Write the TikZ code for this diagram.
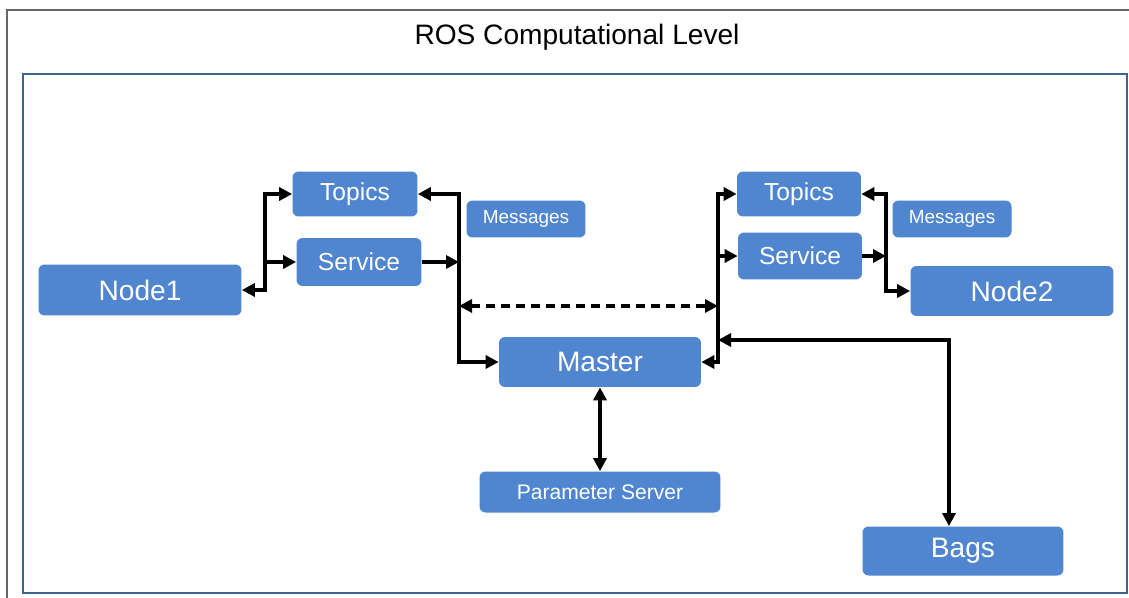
\documentclass[tikz,border=0pt]{standalone}
\usepackage{fontspec}
\setmainfont{Liberation Sans}
\usepackage{tikz}
\usetikzlibrary{shapes,arrows,arrows.meta}

\definecolor{rosblue}{RGB}{80,134,208}
\definecolor{framecol}{RGB}{65,97,142}
\tikzset{
  box/.style={draw=none,fill=rosblue,rounded corners=0.12cm,text=white,inner sep=0pt},
  big/.style={box,font=\fontsize{16}{18}\selectfont},
  mid/.style={box,font=\fontsize{14}{16}\selectfont},
  small/.style={box,font=\fontsize{10.8}{12}\selectfont},
  link/.style={line width=2pt,>={Triangle[length=0.26cm,width=0.26cm]}}
}

\begin{document}
\begin{tikzpicture}[x=0.02cm,y=-0.02cm]
\useasboundingbox (0,0) rectangle (1129,598);
\fill[white] (0,0) rectangle (1129,598);
\draw[gray!80!black,line width=1pt] (1129,10) -- (7,10) -- (7,598);
\draw[framecol,line width=1.6pt] (23,74) rectangle (1127,593);
\node (title) at (577,37) {\fontsize{16}{18}\selectfont ROS Computational Level};

\node[big,minimum width=4.06cm,minimum height=1.02cm] (node1) at (140,290) {Node1};
\node[mid,minimum width=2.5cm,minimum height=0.9cm] (topicsL) at (355,194) {Topics};
\node[mid,minimum width=2.5cm,minimum height=0.96cm] (serviceL) at (359,262) {Service};
\node[small,minimum width=2.38cm,minimum height=0.74cm] (msgL) at (526,219) {Messages};
\node[big,minimum width=4.04cm,minimum height=1cm] (master) at (600,362) {Master};
\node[box,font=\fontsize{12}{14}\selectfont,minimum width=4.82cm,minimum height=0.82cm] (param) at (600,492) {Parameter Server};
\node[mid,minimum width=2.48cm,minimum height=0.9cm] (topicsR) at (799,194) {Topics};
\node[mid,minimum width=2.48cm,minimum height=0.94cm] (serviceR) at (800,256) {Service};
\node[small,minimum width=2.38cm,minimum height=0.74cm] (msgR) at (952,219) {Messages};
\node[big,minimum width=4.06cm,minimum height=1cm] (node2) at (1012,291) {Node2};
\node[big,minimum width=4.02cm,minimum height=0.98cm] (bags) at (963,551) {Bags};

\coordinate (a1) at (265,194);
\coordinate (a2) at (265,262);
\coordinate (b1) at (459,300);
\coordinate (b2) at (459,262);
\coordinate (b3) at (459,306);
\coordinate (c1) at (718,300);
\coordinate (c2) at (718,256);
\coordinate (c3) at (718,306);
\coordinate (c4) at (718,340);
\coordinate (d1) at (886,250);
\coordinate (d2) at (886,256);

\draw[link,<->] (node1.east) -| (a1) -- (topicsL.west);
\draw[link,->] (a2) -- (serviceL.west);
\draw[link,<->] (topicsL.east) -| (b1) |- (master.west);
\draw[link,->] (serviceL.east) -- (b2);
\draw[link,<->,dash pattern=on 0.18cm off 0.12cm] (b3) -- (c3);
\draw[link,<->] (topicsR.west) -| (c1) |- (master.east);
\draw[link,->] (c2) -- (serviceR.west);
\draw[link,<->] (c4) -| ([xshift=-0.28cm]bags.north);
\draw[link,<->] (topicsR.east) -| (d1) |- (node2.west);
\draw[link,->] (serviceR.east) -- (d2);
\draw[link,<->] (master.south) -- (param.north);
\end{tikzpicture}
\end{document}
